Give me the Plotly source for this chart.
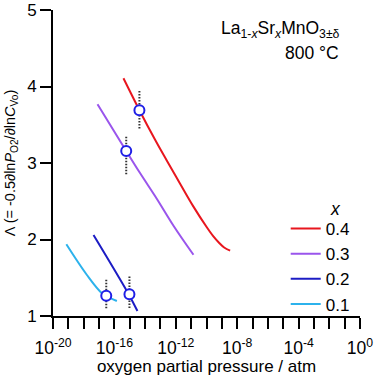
import numpy as np
import plotly.graph_objects as go

# ---- data (log10 pO2 / atm, Lambda) ----
series_names = ["0.4", "0.3", "0.2", "0.1"]
series_colors = ["#e8161e", "#9a55ec", "#1c1cc4", "#2cb2ec"]

logp_04 = [-15.41, -14.37, -13.34, -12.58, -11.72, -10.85, -9.98, -9.55, -9.20, -8.85, -8.46]
lam_04 = [4.107, 3.69, 3.30, 3.03, 2.73, 2.43, 2.16, 2.04, 1.96, 1.895, 1.854]

logp_03 = [-17.10, -15.23, -14.32, -13.23, -12.15, -10.85]
lam_03 = [3.767, 3.157, 2.865, 2.53, 2.18, 1.80]

logp_02 = [-17.36, -15.08, -14.50]
lam_02 = [2.059, 1.288, 1.065]

logp_01 = [-19.13, -17.79, -16.81, -16.27, -15.84]
lam_01 = [1.937, 1.536, 1.297, 1.235, 1.196]

# experimental points (open circles) with dotted uncertainty
pt_logp = [-14.37, -15.23, -15.02, -16.53]
pt_lam = [3.69, 3.157, 1.284, 1.265]
pt_err_plus = [0.25, 0.205, 0.25, 0.21]
pt_err_minus = [0.24, 0.305, 0.18, 0.165]

x_tick_exp = list(range(-20, 1))
x_tick_text = [f"10<sup>{k}</sup>" if k % 4 == 0 else "" for k in x_tick_exp]
y_ticks = [1, 2, 3, 4, 5]

FONT = "Liberation Sans, Arial, sans-serif"

fig = go.Figure()

curves = [(logp_04, lam_04), (logp_03, lam_03), (logp_02, lam_02), (logp_01, lam_01)]
for name, col, (lp, lm) in zip(series_names, series_colors, curves):
    fig.add_trace(go.Scatter(
        x=10 ** np.array(lp), y=lm, mode="lines", name=name,
        line=dict(color=col, width=2, shape="spline", smoothing=1.0),
    ))

for lp, lm, ep, em in zip(pt_logp, pt_lam, pt_err_plus, pt_err_minus):
    fig.add_trace(go.Scatter(
        x=[10 ** lp, 10 ** lp], y=[lm - em, lm + ep], mode="lines",
        line=dict(color="#333333", width=2, dash="1.5px,1.5px"),
        showlegend=False, hoverinfo="skip",
    ))

fig.add_trace(go.Scatter(
    x=10 ** np.array(pt_logp), y=pt_lam, mode="markers", showlegend=False,
    marker=dict(symbol="circle", size=10, color="white",
                line=dict(color="#1f1fe6", width=2)),
))

fig.update_layout(
    width=375, height=376,
    margin=dict(l=52.7, r=15, t=10, b=60, autoexpand=False),
    paper_bgcolor="white", plot_bgcolor="white",
    font=dict(family=FONT, size=17, color="black"),
    showlegend=True,
    legend=dict(x=0.758, xanchor="left", y=0.343, yanchor="top",
                font=dict(size=17), bgcolor="rgba(0,0,0,0)",
                tracegroupgap=0, itemwidth=30),
    xaxis=dict(
        type="log", range=[-20, 0],
        tickvals=[10 ** k for k in x_tick_exp], ticktext=x_tick_text,
        ticks="outside", ticklen=11, tickwidth=2, tickcolor="black",
        showline=True, linewidth=2, linecolor="black",
        showgrid=False, zeroline=False,
        tickfont=dict(size=17.5), ticklabelstandoff=4,
        title=dict(text="oxygen partial pressure / atm", font=dict(size=17), standoff=6),
        automargin=False,
    ),
    yaxis=dict(
        range=[1, 5], tickvals=y_ticks,
        ticks="outside", ticklen=11, tickwidth=2, tickcolor="black",
        showline=True, linewidth=2, linecolor="black",
        showgrid=False, zeroline=False,
        tickfont=dict(size=17),
        title=dict(text="Λ (= -0.5∂ln<i>P</i><sub>O2</sub>/∂ln<i>C</i><sub>Vo</sub>)",
                   font=dict(size=14.5), standoff=8),
        automargin=False,
    ),
    annotations=[
        dict(text="La<sub>1-<i>x</i></sub>Sr<sub><i>x</i></sub>MnO<sub>3±δ</sub>",
             xref="paper", yref="paper", x=(342 - 52.7) / 307.3, y=(316 - 29) / 306,
             xanchor="right", yanchor="middle", showarrow=False, font=dict(size=17.5)),
        dict(text="800 °C",
             xref="paper", yref="paper", x=(341 - 52.7) / 307.3, y=(316 - 53) / 306,
             xanchor="right", yanchor="middle", showarrow=False, font=dict(size=17.5)),
        dict(text="<i>x</i>",
             xref="paper", yref="paper", x=(335 - 52.7) / 307.3, y=(316 - 209) / 306,
             xanchor="center", yanchor="middle", showarrow=False, font=dict(size=17.5)),
    ],
)

fig.write_html("out.html")
